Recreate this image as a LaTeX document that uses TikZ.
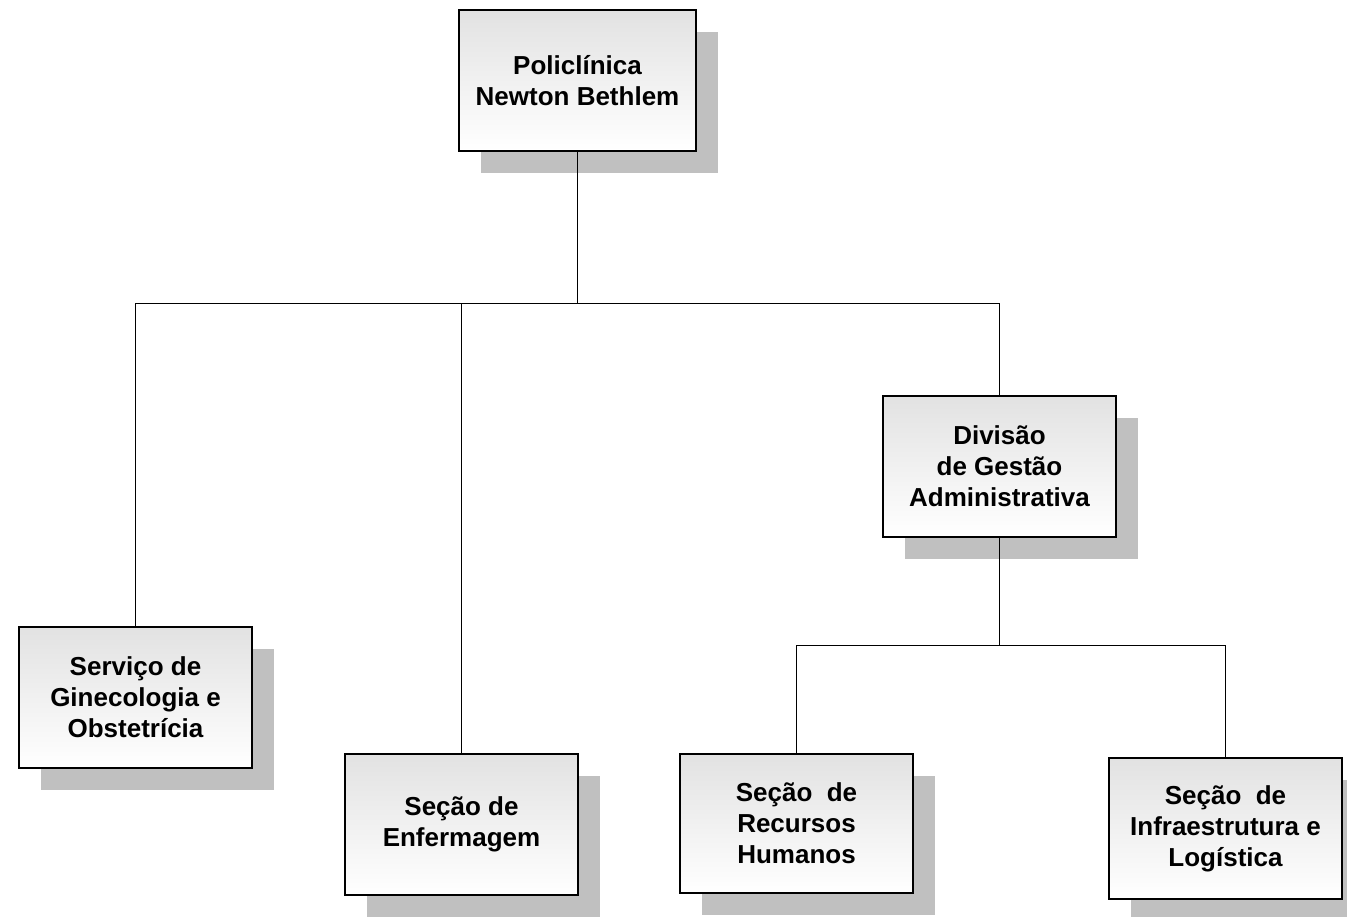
\documentclass[tikz,border=0pt]{standalone}
\usepackage{fontspec}
\setmainfont{Liberation Sans}
\usetikzlibrary{shadows}
\definecolor{shadowgray}{RGB}{192,192,192}
\definecolor{boxtop}{RGB}{226,226,226}
\tikzset{
  orgbox/.style={draw=black, line width=2pt, top color=boxtop, bottom color=white,
    minimum width=233pt, minimum height=141pt, inner sep=0pt, align=center,
    font=\fontsize{26}{31}\selectfont\bfseries,
    general shadow={fill=shadowgray, draw=none, shadow xshift=22pt, shadow yshift=-22pt}},
  link/.style={draw=black, line width=1pt}
}
\begin{document}
\begin{tikzpicture}[x=1pt,y=-1pt]
\useasboundingbox (0,0) rectangle (1347,917);
\node[orgbox, minimum width=237pt] (top) at (577.5,80.5) {Policlínica\\Newton Bethlem};
\node[orgbox] (serv) at (135.5,697.5) {Serviço de\\Ginecologia e\\Obstetrícia};
\node[orgbox] (enf) at (461.5,824.5) {Seção de\\Enfermagem};
\node[orgbox] (div) at (999.5,466.5) {Divisão\\de Gestão\\Administrativa};
\node[orgbox, minimum height=139pt] (rh) at (796.5,823.5) {Seção~~de\\Recursos\\Humanos};
\node[orgbox] (inf) at (1225.5,828.5) {Seção~~de\\Infraestrutura e\\Logística};
\coordinate (j1) at (577.5,304);
\coordinate (j2) at (999.5,645);
\draw[link] (top.south) -- (j1);
\draw[link] (serv.north) -- (serv.north |- j1) -- (div.north |- j1) -- (div.north);
\draw[link] (enf.north) -- (enf.north |- j1);
\draw[link] (div.south) -- (j2);
\draw[link] (rh.north) -- (rh.north |- j2) -- (inf.north |- j2) -- (inf.north);
\end{tikzpicture}
\end{document}
